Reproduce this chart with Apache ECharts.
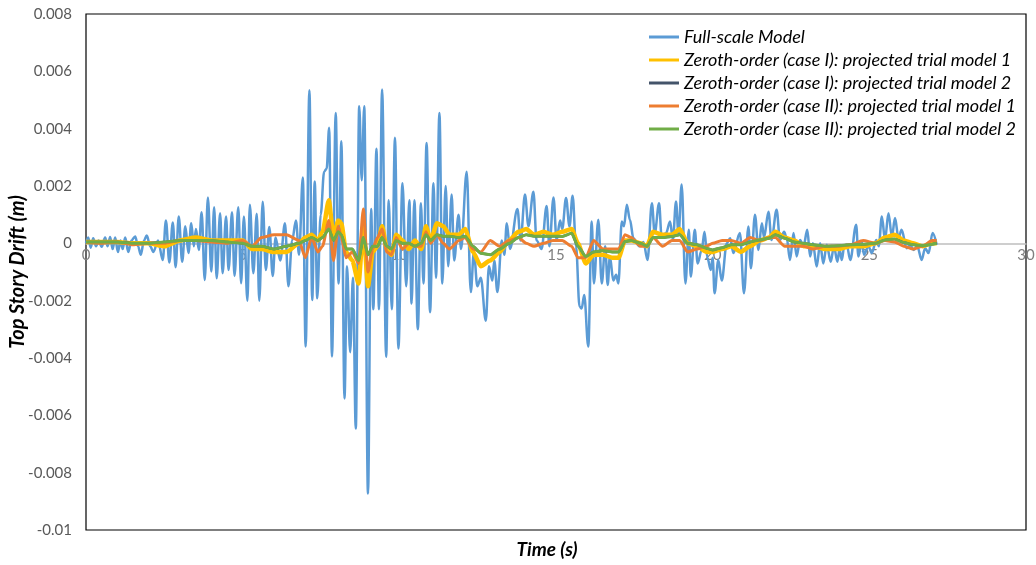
<!DOCTYPE html>
<html>
<head>
<meta charset="utf-8">
<script src="https://cdn.jsdelivr.net/npm/echarts@6/dist/echarts.min.js"></script>
<style>
  html, body { margin: 0; padding: 0; background: #fff; }
  #box1 { width: 1036px; height: 565px; }
</style>
</head>
<body>
<div id="box1"></div>
<script>
var seriesNames = [
    'Full-scale Model',
    'Zeroth-order (case I): projected trial model 1',
    'Zeroth-order (case I): projected trial model 2',
    'Zeroth-order (case II): projected trial model 1',
    'Zeroth-order (case II): projected trial model 2'
];
var seriesColors = ['#5B9BD5', '#FFC000', '#44546A', '#ED7D31', '#70AD47'];

// full-scale model: [time (s), drift (m)] read peak by peak
var fullScale = [
    [0, 0], [0.07, 0.0002], [0.15, -0.00015], [0.23, 0.00018], [0.32, -0.0001], [0.4, 0.0001], [0.5, -0.00012], [0.61, 0.0002], [0.69, -0.0001], [0.77, 0.00022],
    [0.85, -0.0002], [0.93, 0.0002], [1.02, -0.0003], [1.1, 0.0001], [1.17, -0.0002], [1.25, 0.0002], [1.35, -0.0003], [1.45, 0.0001], [1.57, 0.00024], [1.66, -0.0001],
    [1.75, -0.0004], [1.85, 0.0001], [1.94, 0.00027], [2.05, -0.0001], [2.15, -0.0003], [2.3, 0.0001], [2.45, -0.00058], [2.55, 0.0008], [2.66, -0.00067], [2.77, 0.00073],
    [2.86, -0.00083], [2.96, 0.00094], [3.07, -0.00064], [3.17, 0.0006], [3.27, -0.00034], [3.36, 0.0007], [3.44, -0.0001], [3.51, 0.0005], [3.6, -0.00023], [3.69, 0.00108],
    [3.79, -0.00128], [3.89, 0.0016], [4.0, -0.00098], [4.09, 0.00126], [4.17, -0.00122], [4.28, 0.00105], [4.36, -0.00104], [4.47, 0.00094], [4.55, -0.00093], [4.66, 0.00108],
    [4.74, -0.00114], [4.86, 0.00126], [4.95, -0.00139], [5.04, 0.00094], [5.15, -0.002], [5.23, 0.00135], [5.34, -0.00104], [5.45, 0.00103], [5.53, -0.002], [5.64, 0.00145],
    [5.74, -0.00093], [5.85, 0.00057], [5.96, -0.00114], [6.05, 0.0002], [6.2, -0.0006], [6.35, 0.0007], [6.46, -0.0015], [6.58, 0.0001], [6.7, 0.0008], [6.8, -0.0004],
    [6.92, 0.0023], [7.01, -0.0036], [7.13, 0.00534], [7.22, -0.00198], [7.3, 0.00216], [7.38, -0.00192], [7.49, 0.001], [7.6, 0.0025], [7.68, 0.0026], [7.76, 0.00403],
    [7.85, -0.00395], [7.97, 0.00455], [8.06, -0.0014], [8.15, 0.00356], [8.25, -0.00541], [8.33, -0.0008], [8.43, -0.0038], [8.52, -0.0012], [8.61, -0.00646], [8.72, 0.00478],
    [8.8, 0.0022], [8.88, 0.00478], [9.0, -0.00873], [9.1, 0.0012], [9.17, -0.0023], [9.27, 0.0033], [9.35, -0.0023], [9.45, 0.00537], [9.58, -0.00396], [9.66, 0.0015],
    [9.76, -0.0023], [9.86, 0.00368], [9.97, -0.00367], [10.1, 0.0021], [10.22, -0.0015], [10.32, 0.0015], [10.39, -0.0021], [10.48, 0.0015], [10.59, -0.003], [10.69, 0.0014],
    [10.77, -0.0014], [10.87, 0.0035], [10.98, -0.0024], [11.09, 0.0021], [11.17, -0.0012], [11.28, 0.00455], [11.37, -0.0014], [11.48, 0.002], [11.56, -0.0008], [11.67, 0.0017],
    [11.75, -0.0006], [11.89, 0.001], [11.97, -0.0002], [12.15, 0.0025], [12.28, -0.0017], [12.38, -0.0003], [12.49, -0.0015], [12.6, -0.0012], [12.76, -0.0027], [12.86, -0.0008],
    [12.97, -0.0013], [13.03, -0.0006], [13.13, -0.0017], [13.27, 0.0001], [13.35, -0.0004], [13.43, 0.0007], [13.53, -0.0002], [13.77, 0.0012], [13.87, 0.0001], [14.01, 0.0017],
    [14.12, 0.0006], [14.28, 0.0018], [14.38, 0.0001], [14.54, -0.0002], [14.7, 0.0013], [14.79, -0.0001], [14.92, 0.0016], [15.02, 0.0001], [15.13, 0.0008], [15.2, 0.0005],
    [15.32, 0.00158], [15.43, 0.00059], [15.53, 0.00166], [15.64, -0.0001], [15.75, -0.0022], [15.82, -0.00227], [15.9, -0.0018], [16.03, -0.0036], [16.14, 0.00076], [16.21, -0.0014],
    [16.35, 0.00082], [16.46, -0.0014], [16.57, -0.0001], [16.65, -0.00145], [16.72, -0.00046], [16.83, -0.0013], [16.92, -0.0011], [16.99, -0.0014], [17.1, 0.00076], [17.17, 0.0006],
    [17.26, 0.00135], [17.36, 0.00082], [17.47, 0.00018], [17.66, -0.0001], [17.79, 0.00005], [17.92, -0.00058], [18.06, 0.0014], [18.15, 0.00035], [18.29, 0.0014], [18.37, 0.00024],
    [18.51, 0.00035], [18.64, 0.00076], [18.73, 0.00012], [18.83, 0.00146], [18.91, 0.0003], [19.01, 0.00205], [19.13, -0.0014], [19.24, 0.00047], [19.3, -0.00116], [19.43, 0.00047],
    [19.52, -0.0007], [19.65, -0.00023], [19.74, 0.0004], [19.83, -0.0005], [19.94, -0.00093], [20.0, -0.0005], [20.06, -0.00174], [20.18, -0.00058], [20.29, -0.0013], [20.45, 0],
    [20.56, 0.00018], [20.66, -0.00034], [20.87, 0.00036], [21.0, -0.00174], [21.14, 0.00059], [21.22, -0.00087], [21.35, 0.001], [21.46, -0.00023], [21.57, 0.0007], [21.64, 0.0002],
    [21.78, 0.0011], [21.88, 0.00012], [22.04, 0.00117], [22.15, 0.00012], [22.28, 0.0004], [22.36, 0.0002], [22.47, -0.00058], [22.58, 0.00036], [22.68, -0.00046], [22.79, 0.00012],
    [22.9, -0.0001], [23.02, 0.00047], [23.11, -0.00046], [23.2, 0], [23.32, -0.00081], [23.43, 0], [23.53, -0.0007], [23.64, -0.00005], [23.77, -0.00064], [23.87, -0.0001],
    [23.98, -0.00064], [24.05, -0.0002], [24.12, -0.00058], [24.2, -0.0001], [24.28, -0.00005], [24.39, -0.00058], [24.58, 0.00065], [24.65, -0.00046], [24.76, 0.00006], [24.83, -0.0004],
    [24.97, -0.0001], [25.08, -0.00034], [25.22, 0.00012], [25.3, -0.0001], [25.4, 0.00094], [25.5, 0.00012], [25.61, 0.00105], [25.72, 0.00024], [25.82, 0.00088], [25.93, 0.00018],
    [26.03, 0.00047], [26.19, -0.00017], [26.3, -0.00005], [26.41, -0.00023], [26.53, -0.0001], [26.67, -0.00058], [26.78, -0.00017], [26.89, -0.00034], [27.02, 0.00036], [27.15, -0.00005]
];

// shared time grid for the four projected trial models
var trialTime = [
    0, 0.5, 1, 1.5, 2, 2.5, 3, 3.5, 4, 4.5,
    5, 5.3, 5.6, 6.0, 6.4, 6.8, 7.0, 7.2, 7.4, 7.55,
    7.75, 7.9, 8.05, 8.15, 8.3, 8.5, 8.7, 8.85, 9.0, 9.15,
    9.3, 9.45, 9.6, 9.75, 9.9, 10.1, 10.3, 10.5, 10.7, 10.85,
    11.0, 11.2, 11.4, 11.6, 11.9, 12.1, 12.35, 12.6, 12.9, 13.2,
    13.5, 13.8, 14.05, 14.3, 14.6, 14.9, 15.2, 15.5, 15.7, 15.95,
    16.2, 16.5, 16.8, 17.0, 17.2, 17.4, 17.7, 17.9, 18.1, 18.4,
    18.7, 18.95, 19.2, 19.5, 19.8, 20.0, 20.3, 20.6, 20.9, 21.2,
    21.5, 21.8, 22.0, 22.3, 22.6, 22.9, 23.2, 23.6, 24.0, 24.4,
    24.8, 25.2, 25.5, 25.8, 26.1, 26.4, 26.7, 27.0, 27.15
];

var case1Model1 = [
    0.00005, 0.00005, 0.00005, 0, 0, -0.0001, 0.0001, 0.0002, 0.0001, 0.0001,
    0.0001, -0.0002, -0.0002, -0.0003, -0.0003, 0, 0.0002, 0.0003, 0.0001, 0.0004,
    0.0015, 0.0002, 0.0008, 0.0007, -0.0003, -0.0006, -0.0014, 0.0006, -0.0015, -0.0003,
    -0.0001, 0.0006, -0.0002, -0.0004, 0.0003, 0.0001, -0.0002, 0.0001, -0.0002, 0.0006,
    0.0001, 0.0007, 0.0006, 0.0003, 0.0003, 0.0005, -0.0003, -0.0008, -0.0006, -0.0003,
    0.0001, 0.0004, 0.0005, 0.0003, 0.0004, 0.0003, 0.0004, 0.0005, 0, -0.0007,
    -0.0004, -0.0004, -0.0005, -0.0005, 0.0001, 0.0001, 0, -0.0001, 0.0004, 0.0003,
    0.0003, 0.0005, 0, -0.0001, -0.0003, -0.0003, -0.0002, -0.0001, -0.0003, -0.0001,
    0.0001, 0.0002, 0.0004, 0.0002, 0.0001, -0.0001, -0.0001, -0.0002, -0.0002, -0.0001,
    -0.0001, 0, 0.0002, 0.0003, 0.0001, 0, -0.0001, 0, 0
];

var case1Model2 = [
    0.00005, 0.00005, 0.00005, 0, 0, 0.00005, 0.0001, 0.0001, 0.0001, 0.00005,
    0, -0.0001, -0.0001, -0.0002, -0.0001, 0, 0.0001, 0.0002, 0.0001, 0.0002,
    0.0005, 0.0001, 0.0004, 0.0003, -0.0002, -0.0002, -0.0006, 0.0002, -0.0004, -0.0001,
    -0.0001, 0.0002, -0.0001, -0.0002, 0.0001, 0, 0, -0.0001, 0, 0.0003,
    0.0001, 0.0003, 0.00025, 0.00025, 0.0002, 0.00025, -0.0001, -0.00035, -0.0004, -0.0002,
    0, 0.0002, 0.0003, 0.00025, 0.00025, 0.00025, 0.00024, 0.00035, -0.0001, -0.00046,
    -0.0003, -0.00025, -0.0003, -0.0003, 0.00006, 0.0001, 0, -0.0001, 0.0002, 0.0002,
    0.00024, 0.0003, 0, -0.00005, -0.00017, -0.00023, -0.00015, -0.00005, -0.00005, 0.00005,
    0.00012, 0.00018, 0.0003, 0.00018, 0.00005, 0, -0.00005, -0.0001, -0.00008, -0.00005,
    -0.00003, 0, 0.00012, 0.00015, 0.00003, -0.00005, -0.00008, -0.00003, 0
];

var case2Model1 = [
    0.00005, 0, 0.00005, -0.00005, 0, 0, 0.0001, 0.0001, 0.00005, 0,
    0.0001, -0.0001, 0.0002, 0.0003, 0.0003, 0.0001, -0.0005, 0.0002, -0.0003, -0.0001,
    0.0008, -0.0006, 0.0006, 0.0002, -0.0005, -0.0003, -0.0007, 0.0012, -0.001, -0.0002,
    0.0002, 0.0005, -0.0003, -0.0004, 0.0002, -0.0002, 0, -0.0001, -0.0001, 0.0004,
    0, 0.0003, 0, -0.0002, 0.0001, 0.0002, -0.0002, -0.0003, 0.0001, -0.0001,
    0.0001, 0.0002, 0, -0.0001, 0, 0.0001, 0.0001, -0.0001, -0.0005, -0.0005,
    0.0001, -0.0002, -0.0002, -0.0002, 0.0003, 0.0002, -0.0001, -0.0001, 0.0002, -0.0001,
    0.0001, 0.0001, -0.0003, -0.0002, -0.0001, 0, 0.0001, 0.0001, 0, 0.0002,
    0.0001, 0.0002, 0.0002, -0.0001, -0.0001, -0.0001, -0.0002, -0.0001, -0.0001, -0.00005,
    0.0001, 0, 0.0001, 0.00005, -0.0001, -0.0002, -0.0001, 0.0001, 0.0001
];

var case2Model2 = [
    0.00005, 0.00005, 0.00005, 0, 0, 0.00005, 0.0001, 0.0001, 0.0001, 0.00005,
    0, -0.0001, -0.0001, -0.0002, -0.0001, 0, 0.0001, 0.0002, 0.0001, 0.0002,
    0.0005, 0.0001, 0.0004, 0.0003, -0.0002, -0.0002, -0.0006, 0.0002, -0.0004, -0.0001,
    -0.0001, 0.0002, -0.0001, -0.0002, 0.0001, 0, 0, -0.0001, 0, 0.0003,
    0.0001, 0.0003, 0.00025, 0.00025, 0.0002, 0.00025, -0.0001, -0.00035, -0.0004, -0.0002,
    0, 0.0002, 0.0003, 0.00025, 0.00025, 0.00025, 0.00024, 0.00035, -0.0001, -0.00046,
    -0.0003, -0.00025, -0.0003, -0.0003, 0.00006, 0.0001, 0, -0.0001, 0.0002, 0.0002,
    0.00024, 0.0003, 0, -0.00005, -0.00017, -0.00023, -0.00015, -0.00005, -0.00005, 0.00005,
    0.00012, 0.00018, 0.0003, 0.00018, 0.00005, 0, -0.00005, -0.0001, -0.00008, -0.00005,
    -0.00003, 0, 0.00012, 0.00015, 0.00003, -0.00005, -0.00008, -0.00003, 0
];

function pairUp(values) {
    return trialTime.map(function (t, i) { return [t, values[i]]; });
}

var chartDom = document.getElementById('box1');
var myChart = echarts.init(chartDom);
var fontFam = 'Lato, "Open Sans", "DejaVu Sans", sans-serif';

// grid box, the time axis is lifted up to the zero drift line
var gridTop = 14, gridBottom = 35, chartH = 565;
var yMin = -0.01, yMax = 0.008;
var zeroLift = (chartH - gridTop - gridBottom) * (0 - yMin) / (yMax - yMin);

function lineSeries(idx, data, width, smooth) {
    return {
        name: seriesNames[idx],
        type: 'line',
        data: data,
        showSymbol: false,
        symbol: 'none',
        smooth: smooth,
        smoothMonotone: 'x',
        color: seriesColors[idx],
        lineStyle: { width: width, color: seriesColors[idx] },
        emphasis: { disabled: true }
    };
}

var option = {
    animation: false,
    backgroundColor: '#fff',
    textStyle: { fontFamily: fontFam },
    grid: {
        left: 86,
        right: 10,
        top: gridTop,
        bottom: gridBottom,
        containLabel: false,
        outerBoundsMode: 'none',
        show: true,
        borderColor: '#000',
        borderWidth: 1.2
    },
    legend: {
        orient: 'vertical',
        left: 644,
        top: 23,
        itemWidth: 30,
        itemHeight: 14,
        itemGap: 5,
        icon: 'path://M0,0 L30,0 L30,3 L0,3 Z',
        data: seriesNames,
        textStyle: {
            fontFamily: fontFam,
            fontStyle: 'italic',
            fontSize: 18,
            color: '#000'
        }
    },
    xAxis: {
        type: 'value',
        min: 0,
        max: 30,
        interval: 5,
        offset: -zeroLift,
        axisLine: { onZero: false, lineStyle: { color: '#BFBFBF', width: 1.5 } },
        axisTick: { show: false },
        splitLine: { show: false },
        axisLabel: { color: '#7F7F7F', fontSize: 15, margin: 4, fontFamily: fontFam }
    },
    yAxis: {
        type: 'value',
        min: yMin,
        max: yMax,
        interval: 0.002,
        name: 'Top Story Drift (m)',
        nameLocation: 'middle',
        nameGap: 58,
        nameMoveOverlap: false,
        nameTextStyle: {
            fontFamily: fontFam,
            fontStyle: 'italic',
            fontWeight: 'bold',
            fontSize: 20,
            color: '#000'
        },
        axisLine: { show: false },
        axisTick: { show: false },
        splitLine: { show: false },
        axisLabel: {
            color: '#595959',
            fontSize: 15,
            margin: 14,
            fontFamily: fontFam,
            formatter: function (v) { return String(+v.toFixed(3)); }
        }
    },
    graphic: [{
        type: 'text',
        x: 547,
        y: 550,
        style: {
            text: 'Time (s)',
            textAlign: 'center',
            textVerticalAlign: 'middle',
            font: 'italic bold 19px ' + fontFam,
            fill: '#000'
        }
    }],
    series: [
        lineSeries(0, fullScale, 2.5, 0.35),
        lineSeries(1, pairUp(case1Model1), 4.5, 0.2),
        lineSeries(2, pairUp(case1Model2), 2.5, 0.2),
        lineSeries(3, pairUp(case2Model1), 3, 0.2),
        lineSeries(4, pairUp(case2Model2), 3, 0.2)
    ]
};

myChart.setOption(option);
</script>
</body>
</html>
